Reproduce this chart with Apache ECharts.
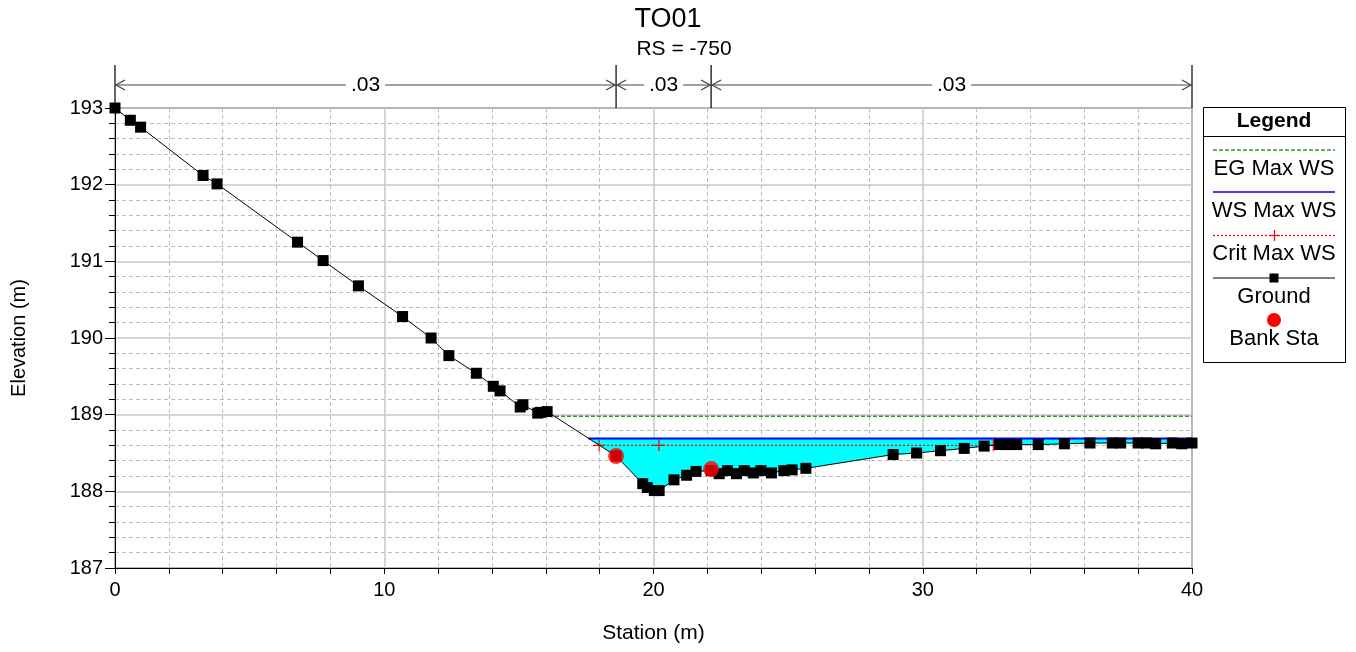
<!DOCTYPE html>
<html><head><meta charset="utf-8">
<script src="https://cdn.jsdelivr.net/npm/echarts@6/dist/echarts.min.js"></script>
<style>html,body{margin:0;padding:0;background:#fff}#c{width:1356px;height:652px}</style>
</head><body><div id="c"></div>
<script>
// ---------- data ----------
const groundStation = [0, 0.57, 0.95, 3.27, 3.79, 6.78, 7.73, 9.04, 10.68, 11.74, 12.40, 13.42, 14.05, 14.30,
  15.05, 15.15, 15.70, 15.80, 16.05, 18.61, 19.60, 19.77, 20.03, 20.21, 20.76, 21.23, 21.58, 22.14, 22.44,
  22.75, 23.08, 23.37, 23.71, 23.99, 24.38, 24.84, 25.15, 25.66, 28.90, 29.77, 30.66, 31.54, 32.28, 32.85,
  33.15, 33.49, 34.29, 35.26, 36.21, 37.04, 37.35, 38.00, 38.31, 38.65, 39.27, 39.62, 40.00];
const groundElev = [193.00, 192.84, 192.75, 192.12, 192.01, 191.25, 191.01, 190.68, 190.28, 190.00, 189.77,
  189.54, 189.37, 189.31, 189.10, 189.13, 189.02, 189.03, 189.04, 188.46, 188.10, 188.05, 188.01, 188.01,
  188.15, 188.21, 188.26, 188.27, 188.23, 188.27, 188.23, 188.27, 188.24, 188.27, 188.24, 188.27, 188.28,
  188.30, 188.48, 188.50, 188.53, 188.56, 188.59, 188.61, 188.61, 188.61, 188.61, 188.62, 188.63, 188.63,
  188.63, 188.63, 188.63, 188.62, 188.63, 188.62, 188.63];
const bankStation = [18.61, 22.14];
const bankElev = [188.46, 188.29];
const egStation = [16.34, 40];
const egElev = [188.98, 188.98];
const wsStation = [17.58, 40];
const wsElev = [188.69, 188.69];
const critStation = [17.98, 20.20, 32.62];
const critElev = [188.60, 188.60, 188.60];
const nBreaks = [0, 18.61, 22.14, 40];
const nValues = ['.03', '.03', '.03'];
const titleText = 'TO01';
const subtitleText = 'RS = -750';
const legendNames = ['EG Max WS', 'WS Max WS', 'Crit Max WS', 'Ground', 'Bank Sta'];

// ---------- helpers ----------
const FONT = '"Liberation Sans", Arial, Helvetica, sans-serif';
const zip = (a, b) => a.map((v, i) => [v, b[i]]);
const groundData = zip(groundStation, groundElev);

function fillPolygon() {
  const pts = [[wsStation[0], wsElev[0]], [wsStation[1], wsElev[1]]];
  for (let i = groundStation.length - 1; i >= 0; i--) {
    if (groundStation[i] > wsStation[0] && groundStation[i] <= wsStation[1]) pts.push([groundStation[i], groundElev[i]]);
  }
  return pts;
}
const nSegments = nValues.map((v, i) => [nBreaks[i], nBreaks[i + 1], v]);

const chart = echarts.init(document.getElementById('c'), null, {renderer: 'canvas'});
const PLUS = 'path://M0,4.5H10V5.5H0Z M4.5,0H5.5V10H4.5Z';

const option = {
  animation: false,
  backgroundColor: '#fff',
  textStyle: {fontFamily: FONT},
  title: [
    {text: titleText, left: 663, top: 1, textAlign: 'center',
      textStyle: {fontSize: 27, fontWeight: 'normal', color: '#000', fontFamily: FONT}},
    {text: subtitleText, left: 679, top: 34, textAlign: 'center',
      textStyle: {fontSize: 21, fontWeight: 'normal', color: '#000', fontFamily: FONT}}
  ],
  grid: {left: 115, right: 164, top: 108, bottom: 84, show: true, borderColor: '#000', borderWidth: 1,
    backgroundColor: 'transparent', containLabel: false},
  xAxis: {
    type: 'value', min: 0, max: 40, interval: 10,
    name: 'Station (m)', nameLocation: 'middle', nameGap: 55,
    nameTextStyle: {fontSize: 21, color: '#000', fontFamily: FONT},
    axisLine: {show: true, onZero: false, lineStyle: {color: '#000', width: 1}},
    axisTick: {show: true, inside: false, length: 6, lineStyle: {color: '#000'}},
    minorTick: {show: true, splitNumber: 5, length: 6, lineStyle: {color: '#000'}},
    splitLine: {show: true, lineStyle: {color: '#c8c8c8', width: 1.5}},
    minorSplitLine: {show: true, lineStyle: {color: '#bcbcbc', width: 1, type: [4, 3]}},
    axisLabel: {fontSize: 20, color: '#000', margin: 12, fontFamily: FONT}
  },
  yAxis: {
    type: 'value', min: 187, max: 193, interval: 1,
    name: 'Elevation (m)', nameLocation: 'middle', nameGap: 86, nameRotate: 90,
    nameTextStyle: {fontSize: 20, color: '#000', fontFamily: FONT},
    axisLine: {show: true, onZero: false, lineStyle: {color: '#000', width: 1}},
    axisTick: {show: true, inside: false, length: 10, lineStyle: {color: '#000'}},
    minorTick: {show: true, splitNumber: 5, length: 6, lineStyle: {color: '#000'}},
    splitLine: {show: true, lineStyle: {color: '#c8c8c8', width: 1.5}},
    minorSplitLine: {show: true, lineStyle: {color: '#bcbcbc', width: 1, type: [4, 3]}},
    axisLabel: {fontSize: 20, color: '#000', margin: 12, fontFamily: FONT}
  },
  series: [
    {
      type: 'custom', name: 'fill', z: 1, silent: true,
      data: [[wsStation[0], wsElev[0]]],
      renderItem: function (params, api) {
        const pts = fillPolygon().map(p => api.coord(p));
        return {type: 'polygon', shape: {points: pts}, style: {fill: '#00ffff', stroke: null}};
      }
    },
    {type: 'line', name: legendNames[0], z: 3, data: zip(egStation, egElev), symbol: 'none', silent: true,
      lineStyle: {color: '#2e9a2e', width: 1.5, type: [4, 2]}},
    {type: 'line', name: legendNames[1], z: 3, data: zip(wsStation, wsElev), symbol: 'none', silent: true,
      lineStyle: {color: '#0000ff', width: 2}},
    {type: 'line', name: legendNames[2], z: 4, data: zip(critStation, critElev), symbol: PLUS, symbolSize: 12,
      showAllSymbol: true, silent: true,
      itemStyle: {color: '#ff0000'}, lineStyle: {color: '#ff0000', width: 1.2, type: [2, 2]}},
    {type: 'line', name: legendNames[3], z: 5, data: groundData, symbol: 'rect', symbolSize: 11,
      showAllSymbol: true, silent: true,
      itemStyle: {color: '#000'}, lineStyle: {color: '#000', width: 1}},
    {type: 'scatter', name: legendNames[4], z: 6, data: zip(bankStation, bankElev), symbol: 'circle', symbolSize: 16,
      silent: true, itemStyle: {color: '#ff0000'}},
    {
      type: 'custom', name: 'nvalues', z: 7, clip: false, silent: true,
      data: nSegments,
      encode: {x: [0, 1]},
      renderItem: function (params, api) {
        const x0 = api.value(0), x1 = api.value(1);
        const label = nSegments[params.dataIndex][2];
        const pa = api.coord([x0, 193]), pb = api.coord([x1, 193]);
        const yTop = pa[1] - 43, yArr = pa[1] - 23;
        const children = [];
        const ls = {stroke: '#000', lineWidth: 1.2, fill: null};
        if (params.dataIndex === 0) {
          children.push({type: 'line', shape: {x1: pa[0], y1: yTop, x2: pa[0], y2: pa[1]}, style: ls});
        }
        children.push({type: 'line', shape: {x1: pb[0], y1: yTop, x2: pb[0], y2: pb[1]}, style: ls});
        children.push({type: 'line', shape: {x1: pa[0], y1: yArr, x2: pb[0], y2: yArr}, style: {stroke: '#444', lineWidth: 1}});
        children.push({type: 'polyline', shape: {points: [[pa[0] + 10, yArr - 5], [pa[0] + 1, yArr], [pa[0] + 10, yArr + 5]]},
          style: {stroke: '#444', lineWidth: 1.2, fill: null}});
        children.push({type: 'polyline', shape: {points: [[pb[0] - 10, yArr - 5], [pb[0] - 1, yArr], [pb[0] - 10, yArr + 5]]},
          style: {stroke: '#444', lineWidth: 1.2, fill: null}});
        children.push({type: 'text', x: (pa[0] + pb[0]) / 2, y: yArr, style: {
          text: label, fill: '#000', font: '21px ' + FONT, fontSize: 21, fontFamily: FONT,
          align: 'center', verticalAlign: 'middle', textAlign: 'center', textVerticalAlign: 'middle',
          backgroundColor: '#fff', padding: [0, 5]}});
        return {type: 'group', children: children};
      }
    }
  ],
  graphic: (function () {
    const cx = 1274, L = 1213, R = 1335;
    const txt = (t, y, bold) => ({type: 'text', x: cx, y: y, style: {
      text: t, fill: '#000', font: (bold ? 'bold 21px ' : '22px ') + FONT, fontSize: bold ? 21 : 22,
      fontWeight: bold ? 'bold' : 'normal', fontFamily: FONT,
      align: 'center', verticalAlign: 'middle', textAlign: 'center', textVerticalAlign: 'middle'}});
    return [
      {type: 'rect', shape: {x: 1203.5, y: 107.5, width: 142, height: 255}, style: {fill: '#fff', stroke: '#000', lineWidth: 1}},
      {type: 'line', shape: {x1: 1203.5, y1: 136.5, x2: 1345.5, y2: 136.5}, style: {stroke: '#000', lineWidth: 1}},
      txt('Legend', 121, true),
      {type: 'line', shape: {x1: L, y1: 150, x2: R, y2: 150}, style: {stroke: '#2e9a2e', lineWidth: 1.5, lineDash: [4, 2]}},
      txt(legendNames[0], 169),
      {type: 'line', shape: {x1: L, y1: 192, x2: R, y2: 192}, style: {stroke: '#0000ff', lineWidth: 1.5}},
      txt(legendNames[1], 211),
      {type: 'line', shape: {x1: L, y1: 235.5, x2: R, y2: 235.5}, style: {stroke: '#ff0000', lineWidth: 1.2, lineDash: [2, 2]}},
      {type: 'line', shape: {x1: cx - 5, y1: 235.5, x2: cx + 6, y2: 235.5}, style: {stroke: '#ff0000', lineWidth: 1.2}},
      {type: 'line', shape: {x1: cx + 0.5, y1: 230, x2: cx + 0.5, y2: 241}, style: {stroke: '#ff0000', lineWidth: 1.2}},
      txt(legendNames[2], 254),
      {type: 'line', shape: {x1: L, y1: 278, x2: R, y2: 278}, style: {stroke: '#000', lineWidth: 1}},
      {type: 'rect', shape: {x: cx - 4.5, y: 273.5, width: 9, height: 9}, style: {fill: '#000'}},
      txt(legendNames[3], 297),
      {type: 'circle', shape: {cx: cx, cy: 320, r: 7}, style: {fill: '#ff0000'}},
      txt(legendNames[4], 339)
    ];
  })()
};
chart.setOption(option);
</script>
</body></html>
